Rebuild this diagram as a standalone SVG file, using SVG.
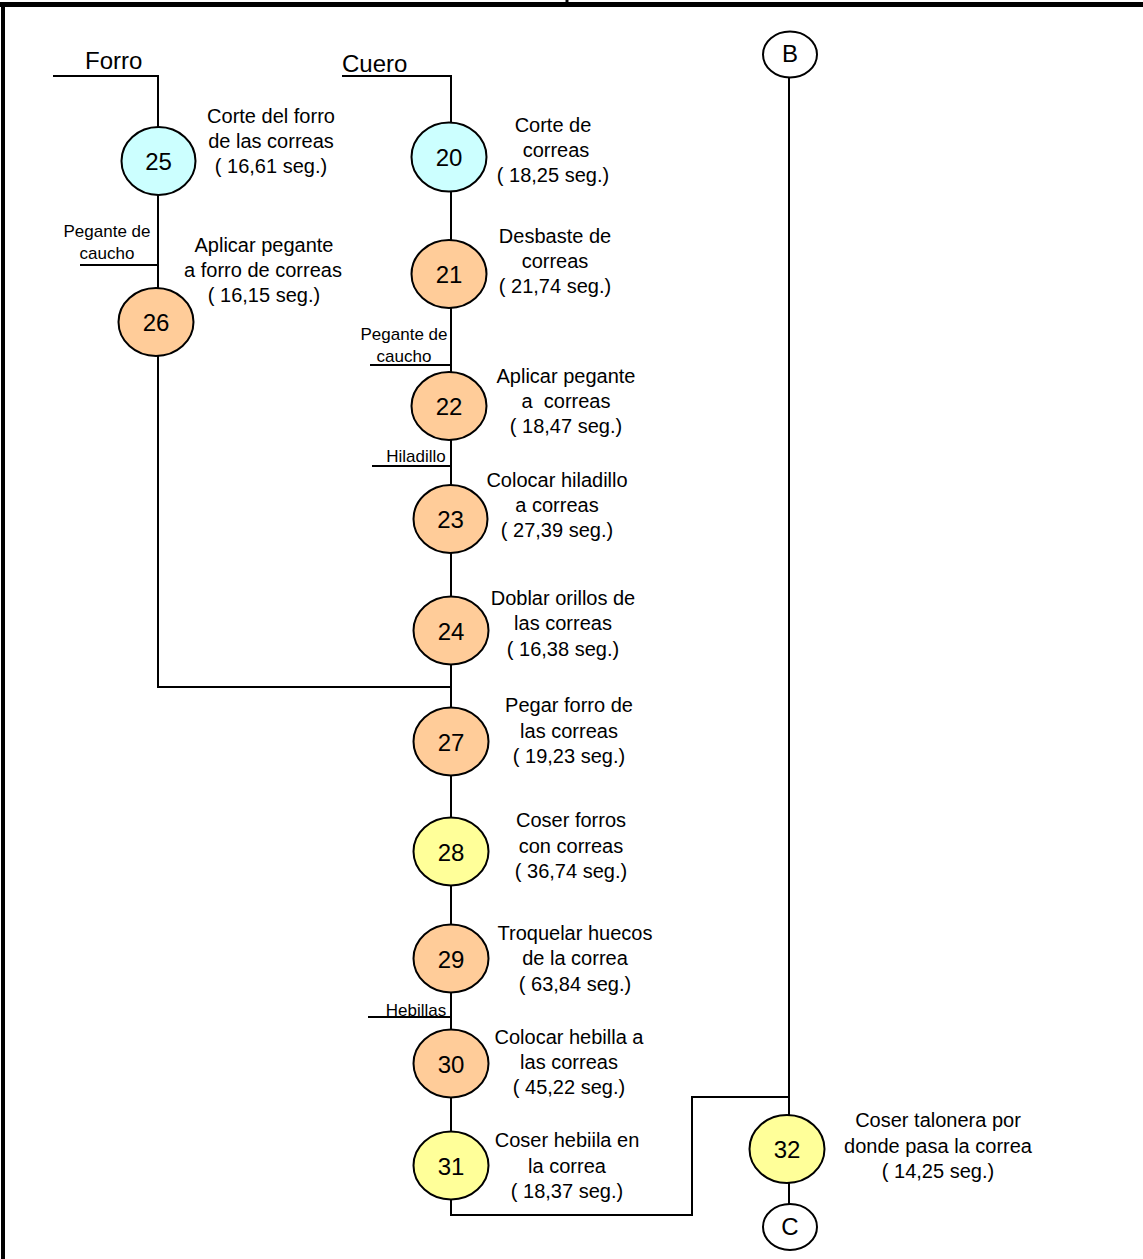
<svg xmlns="http://www.w3.org/2000/svg" width="1143" height="1259" viewBox="0 0 1143 1259">
  <style>
    .frame { stroke: #000; fill: none; }
    .wire { stroke: #000; stroke-width: 2; fill: none; }
    .op { stroke: #000; stroke-width: 2; }
    .cut { fill: #CCFFFF; }
    .prep { fill: #FFCC99; }
    .sew { fill: #FFFF99; }
    .link { fill: #FFFFFF; }
    text { font-family: "Liberation Sans", Arial, sans-serif; fill: #000; text-anchor: middle; white-space: pre; }
    .num { font-size: 24px; }
    .desc { font-size: 20px; }
    .small { font-size: 17px; }
    .head { font-size: 24px; text-anchor: start; }
  </style>
  <rect width="1143" height="1259" fill="#fff"/>

  <!-- page frame -->
  <g id="frame">
    <line class="frame" x1="0" y1="4.5" x2="1143" y2="4.5" stroke-width="5"/>
    <line class="frame" x1="3" y1="2" x2="3" y2="1259" stroke-width="4"/>
    <line class="frame" x1="567" y1="0" x2="567" y2="5" stroke-width="3"/>
  </g>

  <!-- connectors -->
  <g id="connectors">
    <!-- Forro line -->
    <polyline class="wire" points="53,76 158,76 158,128"/>
    <line class="wire" x1="158" y1="194" x2="158" y2="289"/>
    <line class="wire" x1="80" y1="265" x2="158" y2="265"/>
    <polyline class="wire" points="158,356 158,687 451,687"/>
    <!-- Cuero line -->
    <polyline class="wire" points="342,76 451,76 451,123"/>
    <line class="wire" x1="451" y1="191" x2="451" y2="241"/>
    <line class="wire" x1="451" y1="308" x2="451" y2="373"/>
    <line class="wire" x1="370" y1="365" x2="451" y2="365"/>
    <line class="wire" x1="451" y1="440" x2="451" y2="485"/>
    <line class="wire" x1="372" y1="466" x2="451" y2="466"/>
    <line class="wire" x1="451" y1="553" x2="451" y2="597"/>
    <line class="wire" x1="451" y1="664" x2="451" y2="708"/>
    <line class="wire" x1="451" y1="775" x2="451" y2="818"/>
    <line class="wire" x1="451" y1="885" x2="451" y2="925"/>
    <line class="wire" x1="451" y1="992" x2="451" y2="1030"/>
    <line class="wire" x1="368" y1="1017" x2="451" y2="1017"/>
    <line class="wire" x1="451" y1="1097" x2="451" y2="1132"/>
    <polyline class="wire" points="451,1199 451,1215 692,1215 692,1097 789,1097"/>
    <!-- B to C line -->
    <line class="wire" x1="789" y1="77" x2="789" y2="1116"/>
    <line class="wire" x1="789" y1="1182" x2="789" y2="1205"/>
  </g>

  <!-- material labels -->
  <g id="materials">
    <text class="head" x="85" y="69">Forro</text>
    <text class="head" x="342" y="72">Cuero</text>
    <text class="small" x="107" y="237">Pegante de</text>
    <text class="small" x="107" y="259">caucho</text>
    <text class="small" x="404" y="340">Pegante de</text>
    <text class="small" x="404" y="362">caucho</text>
    <text class="small" x="416" y="462">Hiladillo</text>
    <text class="small" x="416" y="1016">Hebillas</text>
  </g>

  <g id="op25">
    <ellipse class="op cut" cx="158.5" cy="161" rx="37" ry="34"/>
    <text class="num" x="158.5" y="170">25</text>
    <text class="desc" x="271" y="123">Corte del forro</text>
    <text class="desc" x="271" y="148">de las correas</text>
    <text class="desc" x="271" y="173">( 16,61 seg.)</text>
  </g>
  <g id="op26">
    <ellipse class="op prep" cx="156" cy="322" rx="37.5" ry="34"/>
    <text class="num" x="156" y="331">26</text>
    <text class="desc" x="264" y="252">Aplicar pegante</text>
    <text class="desc" x="263" y="277">a forro de correas</text>
    <text class="desc" x="264" y="302">( 16,15 seg.)</text>
  </g>
  <g id="op20">
    <ellipse class="op cut" cx="449" cy="157" rx="37.5" ry="34.5"/>
    <text class="num" x="449" y="166">20</text>
    <text class="desc" x="553" y="132">Corte de</text>
    <text class="desc" x="556" y="157">correas</text>
    <text class="desc" x="553" y="182">( 18,25 seg.)</text>
  </g>
  <g id="op21">
    <ellipse class="op prep" cx="449" cy="274" rx="37.5" ry="34"/>
    <text class="num" x="449" y="283">21</text>
    <text class="desc" x="555" y="243">Desbaste de</text>
    <text class="desc" x="555" y="268">correas</text>
    <text class="desc" x="555" y="293">( 21,74 seg.)</text>
  </g>
  <g id="op22">
    <ellipse class="op prep" cx="449" cy="406" rx="37.5" ry="34"/>
    <text class="num" x="449" y="415">22</text>
    <text class="desc" x="566" y="383">Aplicar pegante</text>
    <text class="desc" x="566" y="408" xml:space="preserve">a  correas</text>
    <text class="desc" x="566" y="433">( 18,47 seg.)</text>
  </g>
  <g id="op23">
    <ellipse class="op prep" cx="450.5" cy="519" rx="37" ry="34"/>
    <text class="num" x="450.5" y="528">23</text>
    <text class="desc" x="557" y="487">Colocar hiladillo</text>
    <text class="desc" x="557" y="512">a correas</text>
    <text class="desc" x="557" y="537">( 27,39 seg.)</text>
  </g>
  <g id="op24">
    <ellipse class="op prep" cx="451" cy="630.5" rx="37.5" ry="34"/>
    <text class="num" x="451" y="640">24</text>
    <text class="desc" x="563" y="605">Doblar orillos de</text>
    <text class="desc" x="563" y="630">las correas</text>
    <text class="desc" x="563" y="656">( 16,38 seg.)</text>
  </g>
  <g id="op27">
    <ellipse class="op prep" cx="451" cy="741.5" rx="37.5" ry="34"/>
    <text class="num" x="451" y="751">27</text>
    <text class="desc" x="569" y="712">Pegar forro de</text>
    <text class="desc" x="569" y="738">las correas</text>
    <text class="desc" x="569" y="763">( 19,23 seg.)</text>
  </g>
  <g id="op28">
    <ellipse class="op sew" cx="451" cy="851.5" rx="37.5" ry="34"/>
    <text class="num" x="451" y="861">28</text>
    <text class="desc" x="571" y="827">Coser forros</text>
    <text class="desc" x="571" y="853">con correas</text>
    <text class="desc" x="571" y="878">( 36,74 seg.)</text>
  </g>
  <g id="op29">
    <ellipse class="op prep" cx="451" cy="958.5" rx="37.5" ry="34"/>
    <text class="num" x="451" y="968">29</text>
    <text class="desc" x="575" y="940">Troquelar huecos</text>
    <text class="desc" x="575" y="965">de la correa</text>
    <text class="desc" x="575" y="991">( 63,84 seg.)</text>
  </g>
  <g id="op30">
    <ellipse class="op prep" cx="451" cy="1063.5" rx="37.5" ry="34"/>
    <text class="num" x="451" y="1073">30</text>
    <text class="desc" x="569" y="1044">Colocar hebilla a</text>
    <text class="desc" x="569" y="1069">las correas</text>
    <text class="desc" x="569" y="1094">( 45,22 seg.)</text>
  </g>
  <g id="op31">
    <ellipse class="op sew" cx="451" cy="1165.5" rx="37.5" ry="34"/>
    <text class="num" x="451" y="1175">31</text>
    <text class="desc" x="567" y="1147">Coser hebiila en</text>
    <text class="desc" x="567" y="1173">la correa</text>
    <text class="desc" x="567" y="1198">( 18,37 seg.)</text>
  </g>
  <g id="op32">
    <ellipse class="op sew" cx="787" cy="1149" rx="37.5" ry="34"/>
    <text class="num" x="787" y="1158">32</text>
    <text class="desc" x="938" y="1127">Coser talonera por</text>
    <text class="desc" x="938" y="1153">donde pasa la correa</text>
    <text class="desc" x="938" y="1178">( 14,25 seg.)</text>
  </g>
  <g id="linkB">
    <ellipse class="op link" cx="790" cy="54.5" rx="27" ry="23"/>
    <text class="num" x="790" y="62">B</text>
  </g>
  <g id="linkC">
    <ellipse class="op link" cx="790" cy="1227" rx="27" ry="23"/>
    <text class="num" x="790" y="1235">C</text>
  </g>
</svg>
